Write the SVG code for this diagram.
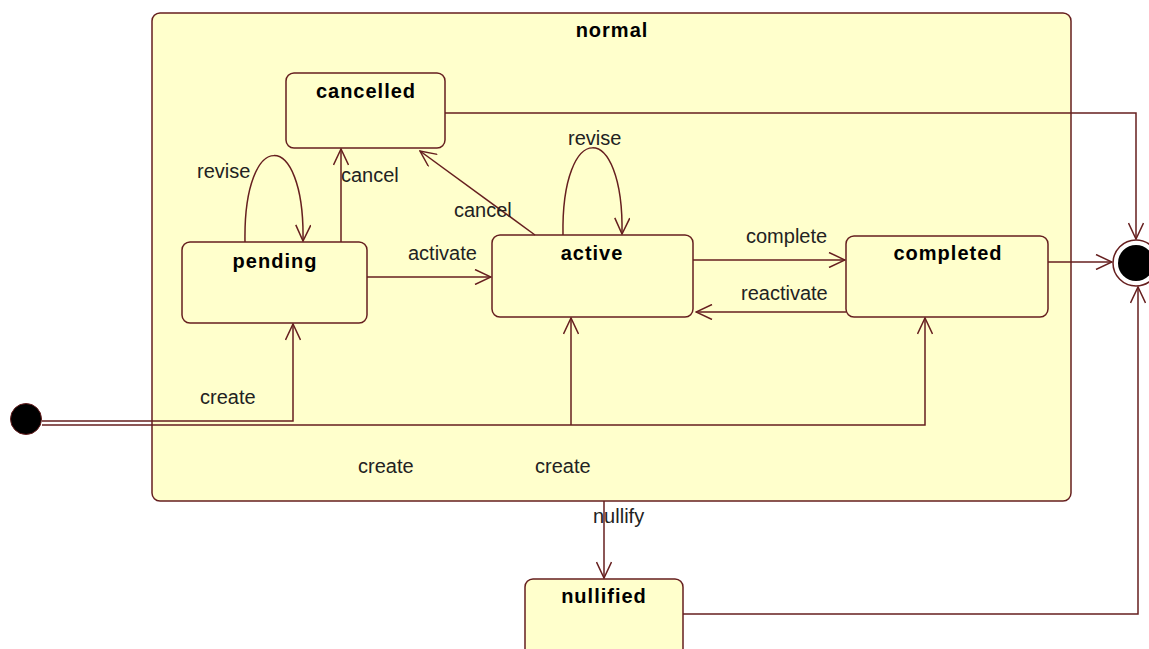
<svg xmlns="http://www.w3.org/2000/svg" width="1149" height="649" viewBox="0 0 1149 649">
  <style>
    .state { fill: #ffffcc; stroke: #661f1f; stroke-width: 1.5; }
    .edge { fill: none; stroke: #661f1f; stroke-width: 1.5; }
    .name { font-family: "Liberation Sans", Arial, sans-serif; font-size: 20px; font-weight: bold; fill: #000; text-anchor: middle; letter-spacing: 1px; }
    .lbl { font-family: "Liberation Sans", Arial, sans-serif; font-size: 20px; fill: #222; }
  </style>
  <defs>
    <marker id="open-arrow" viewBox="0 0 18 16" refX="17" refY="8" markerWidth="18" markerHeight="16" markerUnits="userSpaceOnUse" orient="auto">
      <path d="M1,0.5 L17,8 L1,15.5" fill="none" stroke="#661f1f" stroke-width="1.5"/>
    </marker>
  </defs>

  <rect width="1149" height="649" fill="#ffffff"/>

  <!-- composite state -->
  <g id="normal">
    <rect class="state" x="152" y="13" width="919" height="488" rx="8"/>
    <text class="name" x="612" y="37">normal</text>
  </g>

  <g id="cancelled">
    <rect class="state" x="286" y="73" width="159" height="75" rx="8"/>
    <text class="name" x="366" y="98">cancelled</text>
  </g>

  <g id="pending">
    <rect class="state" x="182" y="242" width="185" height="81" rx="8"/>
    <text class="name" x="275" y="268">pending</text>
  </g>

  <g id="active">
    <rect class="state" x="492" y="235" width="201" height="82" rx="8"/>
    <text class="name" x="592" y="260">active</text>
  </g>

  <g id="completed">
    <rect class="state" x="846" y="236" width="202" height="81" rx="8"/>
    <text class="name" x="948" y="260">completed</text>
  </g>

  <g id="nullified">
    <rect class="state" x="525" y="579" width="158" height="100" rx="8"/>
    <text class="name" x="604" y="603">nullified</text>
  </g>

  <g id="initial">
    <circle cx="26" cy="419" r="15.5" fill="#000" stroke="#661f1f" stroke-width="1"/>
  </g>

  <g id="final">
    <circle cx="1136" cy="263" r="23" fill="#fff" stroke="#661f1f" stroke-width="1.5"/>
    <circle cx="1136" cy="263" r="18" fill="#000"/>
  </g>

  <!-- transitions -->
  <g id="connectors">
    <path class="edge" d="M42,421 H293 V324" marker-end="url(#open-arrow)"/>
    <path class="edge" d="M42,425 H925 V318" marker-end="url(#open-arrow)"/>
    <path class="edge" d="M571,425 V318" marker-end="url(#open-arrow)"/>
    <path class="edge" d="M245,242 C243,127 305,127 303,241" marker-end="url(#open-arrow)"/>
    <path class="edge" d="M563,235 C561,119 624,119 622,234" marker-end="url(#open-arrow)"/>
    <path class="edge" d="M341,242 V149" marker-end="url(#open-arrow)"/>
    <path class="edge" d="M535,235 L420,151" marker-end="url(#open-arrow)"/>
    <path class="edge" d="M367,277 H491" marker-end="url(#open-arrow)"/>
    <path class="edge" d="M693,260 H845" marker-end="url(#open-arrow)"/>
    <path class="edge" d="M846,312 H696" marker-end="url(#open-arrow)"/>
    <path class="edge" d="M445,113 H1136 V239" marker-end="url(#open-arrow)"/>
    <path class="edge" d="M1048,262 H1112" marker-end="url(#open-arrow)"/>
    <path class="edge" d="M604,501 V578" marker-end="url(#open-arrow)"/>
    <path class="edge" d="M683,614 H1138 V287" marker-end="url(#open-arrow)"/>
  </g>

  <g id="labels">
    <text class="lbl" x="197" y="178">revise</text>
    <text class="lbl" x="341" y="182">cancel</text>
    <text class="lbl" x="454" y="217">cancel</text>
    <text class="lbl" x="568" y="145">revise</text>
    <text class="lbl" x="408" y="260">activate</text>
    <text class="lbl" x="746" y="243">complete</text>
    <text class="lbl" x="741" y="300">reactivate</text>
    <text class="lbl" x="200" y="404">create</text>
    <text class="lbl" x="358" y="473">create</text>
    <text class="lbl" x="535" y="473">create</text>
    <text class="lbl" x="593" y="523">nullify</text>
  </g>
</svg>
